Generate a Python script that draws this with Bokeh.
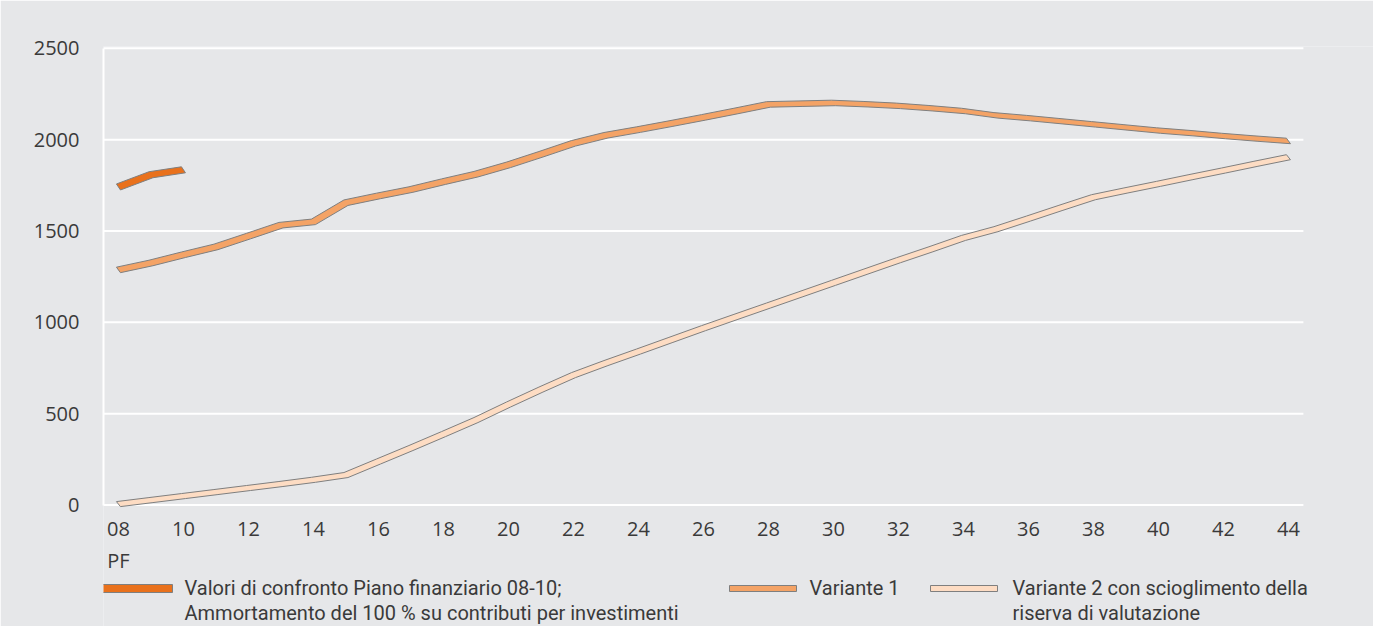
from bokeh.plotting import figure
from bokeh.models import FixedTicker, Range1d
from bokeh.embed import file_html
from bokeh.resources import INLINE
from bokeh.core.properties import value

# ---------------- data ----------------
years = [8, 9, 10, 11, 12, 13, 14, 15, 16, 17, 18, 19, 20, 21, 22, 23, 24, 25, 26,
         27, 28, 29, 30, 31, 32, 33, 34, 35, 36, 37, 38, 39, 40, 41, 42, 43, 44]
comparison_years = [8, 9, 10]
comparison = [1741, 1808, 1835]
variante1 = [1287, 1325, 1370, 1413, 1472, 1532, 1550, 1655, 1692, 1727, 1770, 1811,
             1862, 1920, 1980, 2024, 2055, 2088, 2122, 2157, 2193, 2197, 2201, 2194,
             2185, 2172, 2157, 2133, 2118, 2101, 2084, 2067, 2050, 2036, 2020, 2006, 1993]
variante2 = [5, 27, 49, 71, 93, 115, 138, 164, 238, 312, 388, 465, 550, 632, 711, 777,
             840, 904, 968, 1030, 1092, 1154, 1216, 1278, 1340, 1400, 1462, 1510, 1568,
             1627, 1685, 1722, 1758, 1795, 1831, 1868, 1904]
x_tick_values = [8, 10, 12, 14, 16, 18, 20, 22, 24, 26, 28, 30, 32, 34, 36, 38, 40, 42, 44]
x_tick_labels = ["08\nPF", "10", "12", "14", "16", "18", "20", "22", "24", "26", "28",
                 "30", "32", "34", "36", "38", "40", "42", "44"]
y_tick_values = [0, 500, 1000, 1500, 2000, 2500]
legend_labels = [
    "Valori di confronto Piano finanziario 08-10;\nAmmortamento del 100 % su contributi per investimenti",
    "Variante 1",
    "Variante 2 con scioglimento della\nriserva di valutazione",
]

# ---------------- style / layout ----------------
BG = "#e6e7e9"
TXT = "#3a3a3a"
OUTLINE = "#7f7f7f"
C_CMP = "#e9711c"
C_V1 = "#f4a366"
C_V2 = "#fddcc3"
TICK_FONT = "Open Sans"
LEG_FONT = value("Roboto")

W, H = 1373, 626
LEFT, TOP = 103, 46
FRAME_W, FRAME_H = W - LEFT, H - TOP
PX_X = 32.5                 # pixels per year
PX_Y = 464 / 2540           # pixels per unit
X0 = 7.54
X1 = X0 + FRAME_W / PX_X
Y1 = 2510
Y0 = Y1 - FRAME_H / PX_Y
X_GRID_END = 44.46          # right end of the plotting area


def sx(px):
    return X0 + (px - LEFT) / PX_X


def sy(py):
    return Y1 - (py - TOP) / PX_Y


def ribbon(xs, ys, h_px, dx_px=4.0):
    dx = dx_px / PX_X
    hy = h_px / 2.0 / PX_Y
    tx = [x - dx / 2 for x in xs]
    ty = [y + hy for y in ys]
    bx = [x + dx / 2 for x in xs]
    by = [y - hy for y in ys]
    return tx + bx[::-1], ty + by[::-1]


p = figure(frame_width=FRAME_W, frame_height=FRAME_H,
           x_range=Range1d(X0, X1), y_range=Range1d(Y0, Y1),
           output_backend="svg", toolbar_location=None,
           min_border_left=LEFT, min_border_right=0, min_border_top=TOP, min_border_bottom=0)
p.background_fill_color = BG
p.border_fill_color = BG
p.outline_line_color = None
p.grid.visible = False

# horizontal white gridlines limited to the plotting area
p.segment(x0=[X0] * len(y_tick_values), y0=y_tick_values,
          x1=[X_GRID_END] * len(y_tick_values), y1=y_tick_values,
          line_color="white", line_width=2)

for xs, ys, col, h in [(years, variante2, C_V2, 5.0),
                       (years, variante1, C_V1, 5.5),
                       (comparison_years, comparison, C_CMP, 6.0)]:
    px, py = ribbon(xs, ys, h)
    p.patch(px, py, fill_color=col, line_color=OUTLINE, line_width=1)

ya = p.yaxis[0]
ya.ticker = FixedTicker(ticks=y_tick_values)
ya.bounds = (0, 2500)
ya.axis_line_color = "white"
ya.axis_line_width = 2
ya.major_tick_line_color = None
ya.minor_tick_line_color = None
ya.major_label_text_font = TICK_FONT
ya.major_label_text_font_size = "20px"
ya.major_label_text_color = TXT
ya.major_label_standoff = 18

xa = p.xaxis[0]
xa.fixed_location = 0
xa.ticker = FixedTicker(ticks=x_tick_values)
xa.major_label_overrides = dict(zip(x_tick_values, x_tick_labels))
xa.axis_line_color = None
xa.major_tick_line_color = None
xa.minor_tick_line_color = None
xa.major_label_text_font = TICK_FONT
xa.major_label_text_font_size = "20px"
xa.major_label_text_color = TXT
xa.major_label_standoff = 4

# ---------------- legend (drawn below the axis) ----------------
sw_left = [sx(102), sx(729), sx(930)]
sw_right = [sx(172), sx(796), sx(997)]
sw_top = [sy(584), sy(585), sy(585)]
sw_bottom = [sy(592), sy(591), sy(591)]
p.quad(left=sw_left, right=sw_right, bottom=sw_bottom, top=sw_top,
       fill_color=[C_CMP, C_V1, C_V2], line_color=OUTLINE, line_width=1)
p.text(x=[sx(184), sx(809), sx(1012)], y=[sy(575)] * 3, text=legend_labels,
       text_font=LEG_FONT, text_font_size="20px", text_color=TXT,
       text_baseline="top", text_align="left", text_line_height=1.08)

open("out.html", "w").write(file_html(p, INLINE))
